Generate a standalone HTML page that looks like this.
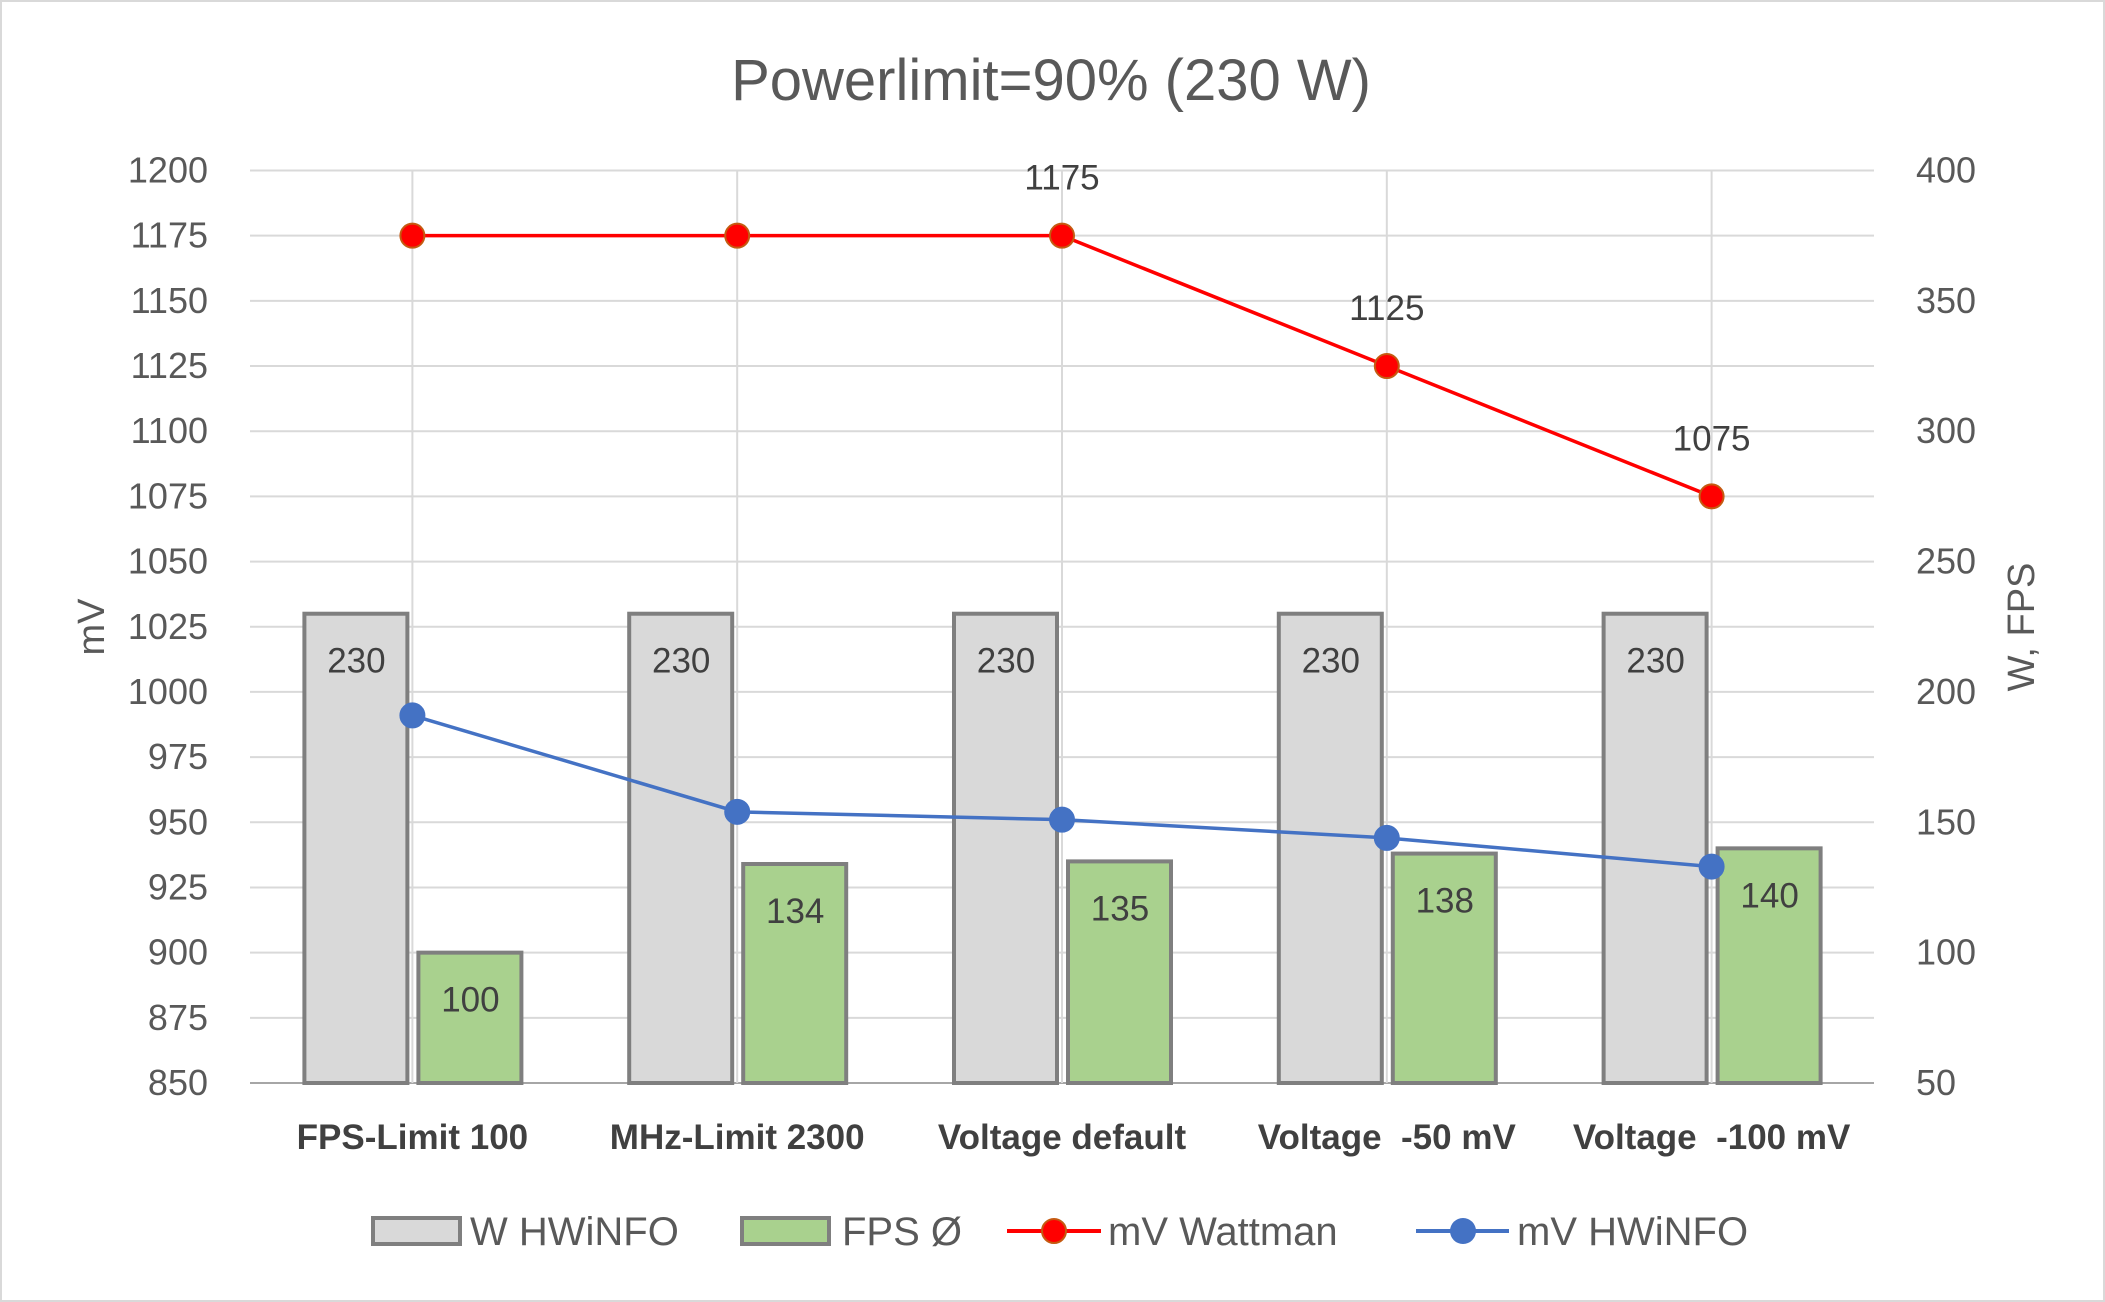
<!DOCTYPE html>
<html><head><meta charset="utf-8"><style>
body{margin:0;background:#fff}
svg{display:block;font-family:"Liberation Sans",sans-serif}
</style></head><body>
<svg id="chart" width="2105" height="1302" viewBox="0 0 2105 1302">
<rect x="1" y="1" width="2103" height="1300" fill="#fff" stroke="#d9d9d9" stroke-width="2"/>
<text x="1051" y="100" text-anchor="middle" font-size="58" fill="#595959">Powerlimit=90% (230 W)</text>
<g id="grid"></g><g id="bars"></g><g id="lines"></g><g id="labels"></g>
<text transform="translate(104,627) rotate(-90)" text-anchor="middle" font-size="38" fill="#595959">mV</text>
<text transform="translate(2034,627) rotate(-90)" text-anchor="middle" font-size="38" fill="#595959">W, FPS</text>
<g font-size="40" fill="#595959">
<g><rect x="373" y="1218" width="87" height="26" fill="#d9d9d9" stroke="#7f7f7f" stroke-width="4"/><text x="470" y="1245">W HWiNFO</text></g>
<g><rect x="742" y="1218" width="87" height="26" fill="#a9d18e" stroke="#7f7f7f" stroke-width="4"/><text x="842" y="1245">FPS Ø</text></g>
<g><line x1="1007" y1="1231" x2="1101" y2="1231" stroke="#ff0000" stroke-width="4"/><circle cx="1054" cy="1231" r="12" fill="#ff0000" stroke="#c55a11" stroke-width="2"/><text x="1108" y="1245">mV Wattman</text></g>
<g><line x1="1416" y1="1231" x2="1509" y2="1231" stroke="#4472c4" stroke-width="4"/><circle cx="1463" cy="1231" r="13" fill="#4472c4"/><text x="1517" y="1245">mV HWiNFO</text></g>
</g>
</svg>
<script>
const categories=["FPS-Limit 100","MHz-Limit 2300","Voltage default","Voltage  -50 mV","Voltage  -100 mV"];
const wHwinfo=[230,230,230,230,230];
const fps=[100,134,135,138,140];
const mvWattman=[1175,1175,1175,1125,1075];
const mvHwinfo=[991,954,951,944,933];
const leftTicks=[850,875,900,925,950,975,1000,1025,1050,1075,1100,1125,1150,1175,1200];
const rightTicks=[50,100,150,200,250,300,350,400];

const NS="http://www.w3.org/2000/svg";
const L=250,R=1874,T=170.5,B=1083;
const cw=(R-L)/categories.length;
const xC=i=>L+cw*(i+0.5);
const yL=v=>B-(v-850)/350*(B-T);
const yR=v=>B-(v-50)/350*(B-T);
function mk(tag,attrs,parent,text){const e=document.createElementNS(NS,tag);for(const k in attrs)e.setAttribute(k,attrs[k]);if(text!==undefined)e.textContent=text;parent.appendChild(e);return e;}
const grid=document.getElementById('grid'),bars=document.getElementById('bars'),lines=document.getElementById('lines'),labels=document.getElementById('labels');
leftTicks.forEach(v=>{
  const y=yL(v);
  const g=mk('line',{x1:L,x2:R,y1:y,y2:y,stroke:v===850?'#a6a6a6':'#d9d9d9','stroke-width':2},grid);
  
  
  const t=mk('text',{x:208,y:y+12,'text-anchor':'end','font-size':36,fill:'#595959'},grid,v);
  
  
});
rightTicks.forEach(v=>{
  const t=mk('text',{x:1916,y:yR(v)+12,'font-size':36,fill:'#595959'},grid,v);
  
  
});
categories.forEach((c,i)=>{
  const x=xC(i);
  const v=mk('line',{x1:x,x2:x,y1:T,y2:B,stroke:'#d9d9d9','stroke-width':2},grid);
  
  
  const t=mk('text',{x:x,y:1149,'text-anchor':'middle','font-size':35,'font-weight':'bold',fill:'#404040'},labels,c);
  t.style.whiteSpace='pre';
  
  
  const gy=yR(wHwinfo[i]);
  const b1=mk('rect',{x:x-108,y:gy,width:103,height:B-gy,fill:'#d9d9d9',stroke:'#7f7f7f','stroke-width':4},bars);
  
  
  const l1=mk('text',{x:x-56,y:gy+59,'text-anchor':'middle','font-size':35,fill:'#404040'},labels,wHwinfo[i]);
  
  
  const fy=yR(fps[i]);
  const b2=mk('rect',{x:x+6,y:fy,width:103,height:B-fy,fill:'#a9d18e',stroke:'#7f7f7f','stroke-width':4},bars);
  
  
  const l2=mk('text',{x:x+58,y:fy+59,'text-anchor':'middle','font-size':35,fill:'#404040'},labels,fps[i]);
  
  
});
function series(vals,color,stroke,name,showLabels){
  const pts=vals.map((v,i)=>xC(i)+','+yL(v)).join(' ');
  const p=mk('polyline',{points:pts,fill:'none',stroke:color,'stroke-width':3.5},lines);
  
  
  vals.forEach((v,i)=>{
    const c=mk('circle',{cx:xC(i),cy:yL(v),r:12,fill:color,stroke:stroke,'stroke-width':2},lines);
    
    
    if(showLabels&&i>=2){
      const t=mk('text',{x:xC(i),y:yL(v)-46,'text-anchor':'middle','font-size':35,fill:'#404040'},labels,v);
      
      
    }
  });
}
series(mvWattman,'#ff0000','#c55a11','mv-wattman',true);
series(mvHwinfo,'#4472c4','#4472c4','mv-hwinfo',false);
</script>
</body></html>
